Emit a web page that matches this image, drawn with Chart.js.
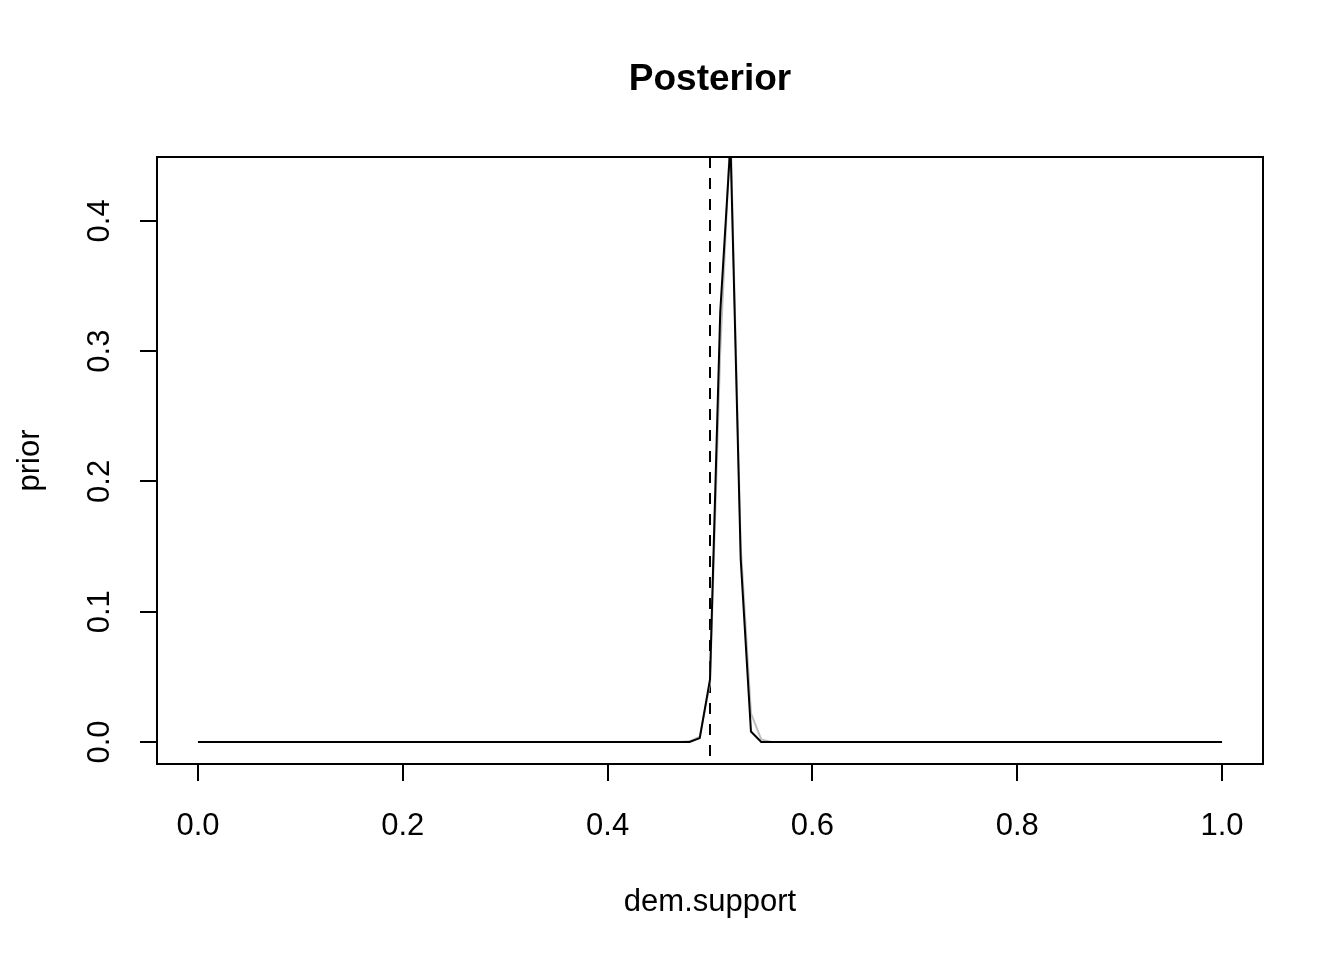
<!DOCTYPE html>
<html>
<head>
    <meta charset="UTF-8">
    <title>Posterior</title>
    <script src="https://cdn.jsdelivr.net/npm/chart.js"></script>
    <style>
        html, body { margin: 0; padding: 0; background: #fff; }
        #wrap { width: 1344px; height: 960px; }
    </style>
</head>
<body>
    <div id="wrap"><canvas id="chart" width="1344" height="960"></canvas></div>
    <script>
        // dem.support grid (flat parts are zero, only breakpoints kept)
        var gridX = [0, 0.47, 0.48, 0.49, 0.50, 0.51, 0.52, 0.53, 0.54, 0.55, 0.56, 1];
        // grey curve
        var greyY = [0, 0, 0.0005, 0.004, 0.045, 0.30, 0.47, 0.15, 0.022, 0.002, 0, 0];
        // black curve
        var blackY = [0, 0, 0, 0.003, 0.048, 0.33, 0.46, 0.14, 0.008, 0, 0, 0];
        var xTicks = [0, 0.2, 0.4, 0.6, 0.8, 1.0];
        var yTicks = [0, 0.1, 0.2, 0.3, 0.4];
        var vLine = 0.5;
        var mainTitle = 'Posterior';

        function pts(ys) {
            return gridX.map(function(x, i) { return {x: x, y: ys[i]}; });
        }

        var fontFam = '"Liberation Sans", Arial, Helvetica, sans-serif';

        // box around plot, dashed vertical line, title over the plot area
        var boxPlugin = {
            id: 'box',
            beforeDatasetsDraw: function(chart) {
                var ctx = chart.ctx, a = chart.chartArea;
                var px = chart.scales.x.getPixelForValue(vLine);
                ctx.save();
                ctx.strokeStyle = '#000';
                ctx.lineWidth = 2;
                ctx.setLineDash([11, 10]);
                ctx.beginPath();
                ctx.moveTo(px, a.top);
                ctx.lineTo(px, a.bottom);
                ctx.stroke();
                ctx.restore();
            },
            afterDraw: function(chart) {
                var ctx = chart.ctx, a = chart.chartArea;
                ctx.save();
                ctx.strokeStyle = '#000';
                ctx.lineWidth = 2;
                ctx.strokeRect(a.left, a.top, a.right - a.left, a.bottom - a.top);
                ctx.fillStyle = '#000';
                ctx.font = 'bold 37px ' + fontFam;
                ctx.textAlign = 'center';
                ctx.textBaseline = 'middle';
                ctx.fillText(mainTitle, (a.left + a.right) / 2, 80);
                ctx.restore();
            }
        };

        var ctx = document.getElementById('chart').getContext('2d');
        var chart = new Chart(ctx, {
            type: 'line',
            data: {
                datasets: [{
                    data: pts(blackY),
                    borderColor: '#000',
                    borderWidth: 2,
                    pointRadius: 0,
                    tension: 0
                }, {
                    data: pts(greyY),
                    borderColor: '#bebebe',
                    borderWidth: 2,
                    pointRadius: 0,
                    tension: 0
                }]
            },
            options: {
                responsive: false,
                animation: false,
                layout: { padding: { top: 157, right: 81, left: 0, bottom: 0 } },
                plugins: {
                    legend: { display: false },
                    tooltip: { enabled: false },
                    title: { display: false }
                },
                scales: {
                    x: {
                        type: 'linear',
                        min: -0.04,
                        max: 1.04,
                        afterBuildTicks: function(s) { s.ticks = xTicks.map(function(v) { return {value: v}; }); },
                        afterFit: function(s) { s.height = 196; },
                        grid: { drawOnChartArea: false, drawTicks: true, tickLength: 17, color: '#000', lineWidth: 2 },
                        border: { display: true, color: '#000', width: 2 },
                        ticks: {
                            color: '#000',
                            padding: 27,
                            maxRotation: 0,
                            font: { family: fontFam, size: 31 },
                            callback: function(v) { return v.toFixed(1); }
                        },
                        title: {
                            display: true,
                            text: 'dem.support',
                            color: '#000',
                            font: { family: fontFam, size: 31, lineHeight: 1.2 },
                            padding: { bottom: 39 }
                        }
                    },
                    y: {
                        type: 'linear',
                        min: -0.0169,
                        max: 0.449,
                        afterBuildTicks: function(s) { s.ticks = yTicks.map(function(v) { return {value: v}; }); },
                        afterFit: function(s) { s.width = 157; },
                        grid: { drawOnChartArea: false, drawTicks: true, tickLength: 17, color: '#000', lineWidth: 2 },
                        border: { display: true, color: '#000', width: 2 },
                        ticks: {
                            color: '#000',
                            padding: 18,
                            crossAlign: 'center',
                            minRotation: 90,
                            maxRotation: 90,
                            font: { family: fontFam, size: 31 },
                            callback: function(v) { return v.toFixed(1); }
                        },
                        title: {
                            display: true,
                            text: 'prior',
                            color: '#000',
                            font: { family: fontFam, size: 31, lineHeight: 1.2 },
                            padding: { top: 12 }
                        }
                    }
                }
            },
            plugins: [boxPlugin]
        });
    </script>
</body>
</html>
